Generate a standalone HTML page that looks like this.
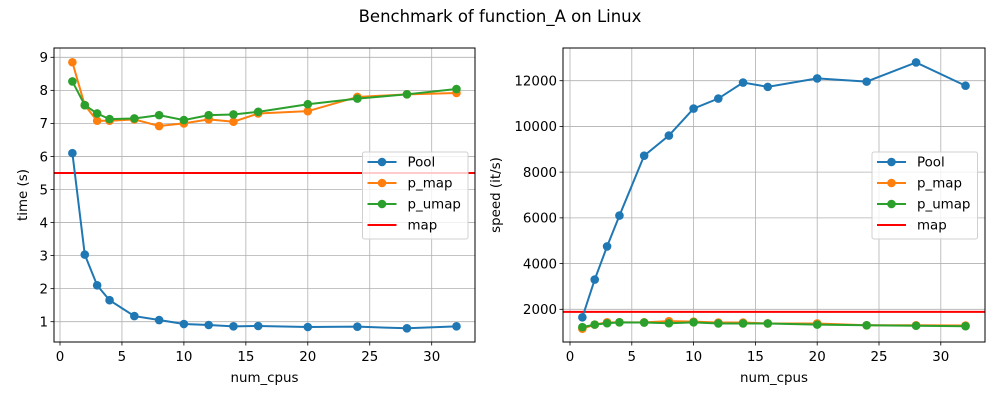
<!DOCTYPE html>
<html><head><meta charset="utf-8"><style>
html,body{margin:0;padding:0;background:#fff;width:1000px;height:400px;overflow:hidden}
svg text{font-family:"DejaVu Sans","Liberation Sans",sans-serif;fill:#000}
</style></head><body>
<svg id="s" width="1000" height="400" xmlns="http://www.w3.org/2000/svg">
<text x="500" y="22" font-size="16.5" text-anchor="middle">Benchmark of function_A on Linux</text>
</svg>
<script>
const s=document.getElementById('s');let h='';
const X=[1,2,3,4,6,8,10,12,14,16,20,24,28,32];
const C={b:'#1f77b4',o:'#ff7f0e',g:'#2ca02c'};
function panel(o){
 const {x0,x1,y0,y1,xz,xs,yf,yt,ser,mapv,ylabel,lg}=o;
 const fx=v=>xz+v*xs;
 h+=`<g stroke="#b0b0b0" stroke-width="0.8">`;
 for(let t=0;t<=30;t+=5)h+=`<line x1="${fx(t)}" x2="${fx(t)}" y1="${y0}" y2="${y1}"/>`;
 yt.forEach(t=>h+=`<line x1="${x0}" x2="${x1}" y1="${yf(t)}" y2="${yf(t)}"/>`);
 h+=`</g>`;
 for(let t=0;t<=30;t+=5)h+=`<line x1="${fx(t)}" x2="${fx(t)}" y1="${y1}" y2="${y1+3.5}" stroke="#000" stroke-width="0.8"/><text x="${fx(t)}" y="${y1+19}" font-size="13.4" text-anchor="middle">${t}</text>`;
 yt.forEach(t=>h+=`<line x1="${x0-3.5}" x2="${x0}" y1="${yf(t)}" y2="${yf(t)}" stroke="#000" stroke-width="0.8"/><text x="${x0-6}" y="${yf(t)+4.8}" font-size="13.4" text-anchor="end">${t}</text>`);
 const ym=yf(mapv);
 h+=`<line x1="${x0}" x2="${x1}" y1="${ym}" y2="${ym}" stroke="#f00" stroke-width="2"/>`;
 ser.forEach(([c,d])=>{
  const p=X.map((x,i)=>`${fx(x)},${yf(d[i])}`).join(' ');
  h+=`<polyline points="${p}" fill="none" stroke="${c}" stroke-width="2"/>`;
  X.forEach((x,i)=>h+=`<circle cx="${fx(x)}" cy="${yf(d[i])}" r="4.3" fill="${c}"/>`);
 });
 h+=`<rect x="${x0}" y="${y0}" width="${x1-x0}" height="${y1-y0}" fill="none" stroke="#000" stroke-width="1"/>`;
 h+=`<text x="${(x0+x1)/2}" y="${y1+40}" font-size="13.4" text-anchor="middle">num_cpus</text>`;
 const ly=(y0+y1)/2;
 h+=`<text transform="translate(${o.ylx},${ly}) rotate(-90)" font-size="13.4" text-anchor="middle">${ylabel}</text>`;
 h+=`<rect x="${lg}" y="152" width="105.5" height="87" rx="2" fill="#fff" fill-opacity="0.8" stroke="#d0d0d0"/>`;
 [['Pool',C.b,1],['p_map',C.o,1],['p_umap',C.g,1],['map','#f00',0]].forEach(([n,c,m],i)=>{
  const y=162+i*21;
  h+=`<line x1="${lg+5}" x2="${lg+34}" y1="${y}" y2="${y}" stroke="${c}" stroke-width="2"/>`;
  if(m)h+=`<circle cx="${lg+19.5}" cy="${y}" r="4.3" fill="${c}"/>`;
  h+=`<text x="${lg+45}" y="${y+4.5}" font-size="13.4">${n}</text>`;
 });
}
panel({x0:54,x1:475,y0:48,y1:342,xz:60,xs:12.39,yf:v=>321.7-(v-1)*33.05,yt:[1,2,3,4,5,6,7,8,9],mapv:5.5,ylabel:'time (s)',ylx:27,lg:362.5,
 ser:[[C.b,[6.1,3.03,2.1,1.65,1.17,1.05,0.93,0.9,0.86,0.87,0.84,0.85,0.8,0.86]],
 [C.o,[8.85,7.55,7.08,7.08,7.12,6.92,7.0,7.12,7.05,7.3,7.37,7.8,7.88,7.92]],
 [C.g,[8.27,7.55,7.3,7.13,7.15,7.25,7.1,7.25,7.27,7.35,7.58,7.75,7.88,8.04]]]});
panel({x0:563,x1:985,y0:48,y1:342,xz:570,xs:12.36,yf:v=>309.3-(v-2000)*0.02286,yt:[2000,4000,6000,8000,10000,12000],mapv:1890,ylabel:'speed (it/s)',ylx:500,lg:872,
 ser:[[C.b,[1650,3300,4750,6100,8720,9600,10780,11220,11920,11730,12100,11960,12800,11780]],
 [C.o,[1150,1330,1430,1430,1430,1480,1460,1420,1420,1380,1380,1300,1300,1290]],
 [C.g,[1220,1330,1390,1430,1420,1390,1430,1380,1380,1380,1330,1300,1280,1260]]]});
s.insertAdjacentHTML('beforeend',h);
</script>
</body></html>
